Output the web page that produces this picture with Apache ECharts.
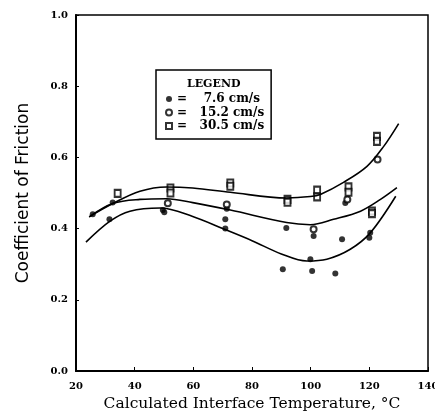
<!DOCTYPE html>
<html>
<head>
<meta charset="utf-8">
<script src="https://cdn.jsdelivr.net/npm/echarts@6/dist/echarts.min.js"></script>
<style>
  html, body { margin: 0; padding: 0; background: #fff; }
  #chart { width: 435px; height: 413px; }
</style>
</head>
<body>
<div id="chart"></div>
<script>
// measured points, [temperature C, friction coefficient]
var slow76 = [[25.7, 0.44], [31.4, 0.426], [32.5, 0.473], [50.1, 0.446], [49.6, 0.452],
  [70.9, 0.426], [70.9, 0.40], [71.4, 0.456], [91.7, 0.402], [90.5, 0.286], [99.9, 0.314],
  [100.5, 0.281], [101, 0.379], [108.4, 0.274], [110.7, 0.37], [111.8, 0.472],
  [120.3, 0.388], [120, 0.374]]
var mid152 = [[51.3, 0.471], [71.4, 0.468], [101, 0.398], [112.5, 0.482], [122.8, 0.594]]
var fast305 = [[34.2, 0.499], [52.2, 0.514], [52.2, 0.50], [72.6, 0.528], [72.6, 0.519],
  [92.1, 0.482], [92.1, 0.474], [102.2, 0.508], [102.2, 0.489], [112.9, 0.517],
  [112.9, 0.502], [120.9, 0.449], [120.9, 0.442], [122.6, 0.659], [122.6, 0.645]]

// fitted curves
var curve76 = [[23.4, 0.362], [31.6, 0.421], [38.4, 0.449], [48.7, 0.458], [59.8, 0.434],
  [70, 0.40], [80, 0.366], [90, 0.329], [98.7, 0.309], [105.5, 0.314], [113.5, 0.342],
  [120.3, 0.388], [129, 0.491]]
var curve152 = [[24.5, 0.433], [32.7, 0.471], [41.8, 0.482], [50.9, 0.484], [59.8, 0.473],
  [72.6, 0.452], [91.8, 0.417], [99.9, 0.411], [107.8, 0.426], [117, 0.449],
  [123.8, 0.482], [129.4, 0.515]]
var curve305 = [[24.5, 0.433], [32.7, 0.471], [41.8, 0.505], [50.9, 0.517], [59.8, 0.514],
  [72.6, 0.502], [91.8, 0.486], [99.9, 0.49], [103.3, 0.496], [111.2, 0.53],
  [119.2, 0.575], [124.9, 0.631], [130, 0.695]]

var legendNames = ['7.6 cm/s', '15.2 cm/s', '30.5 cm/s']

var chart = echarts.init(document.getElementById('chart'))

function curveSeries(data) {
  return {
    type: 'line',
    data: data,
    smooth: 0.35,
    showSymbol: false,
    silent: true,
    lineStyle: { color: '#000', width: 1.6 }
  }
}

var serif = 'DejaVu Serif'

var option = {
  animation: false,
  title: {
    text: 'LEGEND',
    left: 187,
    top: 79,
    padding: 0,
    textStyle: { fontFamily: serif, fontWeight: 'bold', fontSize: 11, color: '#000' }
  },
  legend: {
    data: legendNames,
    orient: 'vertical',
    left: 156,
    top: 70,
    padding: [23, 7, 7, 9],
    borderColor: '#000',
    borderWidth: 1.5,
    itemWidth: 6,
    itemHeight: 6,
    itemGap: 1.5,
    formatter: function (name) {
      return (name.length < 9 ? '=    ' : '=   ') + name
    },
    textStyle: { fontFamily: serif, fontWeight: 'bold', fontSize: 12, color: '#000', lineHeight: 11 }
  },
  grid: {
    left: 76, right: 7, top: 15, bottom: 42,
    outerBoundsMode: 'none',
    show: true, borderColor: '#000', borderWidth: 1.5
  },
  xAxis: {
    type: 'value',
    min: 20, max: 140, interval: 20,
    name: 'Calculated Interface Temperature, °C',
    nameLocation: 'middle',
    nameGap: 25,
    nameTextStyle: { fontFamily: serif, fontSize: 15.5, color: '#000' },
    axisLine: { lineStyle: { color: '#000', width: 2 } },
    axisTick: { inside: true, length: 4, lineStyle: { color: '#000' } },
    axisLabel: { margin: 10, fontFamily: serif, fontWeight: 'bold', fontSize: 10, color: '#000' },
    splitLine: { show: false }
  },
  yAxis: {
    type: 'value',
    min: 0, max: 1, interval: 0.2,
    name: 'Coefficient of Friction',
    nameLocation: 'middle',
    nameRotate: 90,
    nameGap: 44,
    nameTextStyle: { fontFamily: 'DejaVu Sans', fontSize: 17, color: '#000' },
    axisLine: { lineStyle: { color: '#000', width: 2 } },
    axisTick: { inside: true, length: 3, lineStyle: { color: '#000' } },
    axisLabel: {
      margin: 8, fontFamily: serif, fontWeight: 'bold', fontSize: 10, color: '#000',
      formatter: function (v) { return v.toFixed(1) }
    },
    splitLine: { show: false }
  },
  series: [
    curveSeries(curve76),
    curveSeries(curve152),
    curveSeries(curve305),
    {
      name: legendNames[0], type: 'scatter', data: slow76,
      symbol: 'circle', symbolSize: 6,
      itemStyle: { color: '#000' }
    },
    {
      name: legendNames[1], type: 'scatter', data: mid152,
      symbol: 'emptyCircle', symbolSize: 6,
      itemStyle: { color: '#000', borderColor: '#000', borderWidth: 1.3 }
    },
    {
      name: legendNames[2], type: 'scatter', data: fast305,
      symbol: 'emptyRect', symbolSize: [6, 7],
      itemStyle: { color: '#000', borderColor: '#000', borderWidth: 1.3 }
    }
  ]
}

chart.setOption(option)
</script>
</body>
</html>
